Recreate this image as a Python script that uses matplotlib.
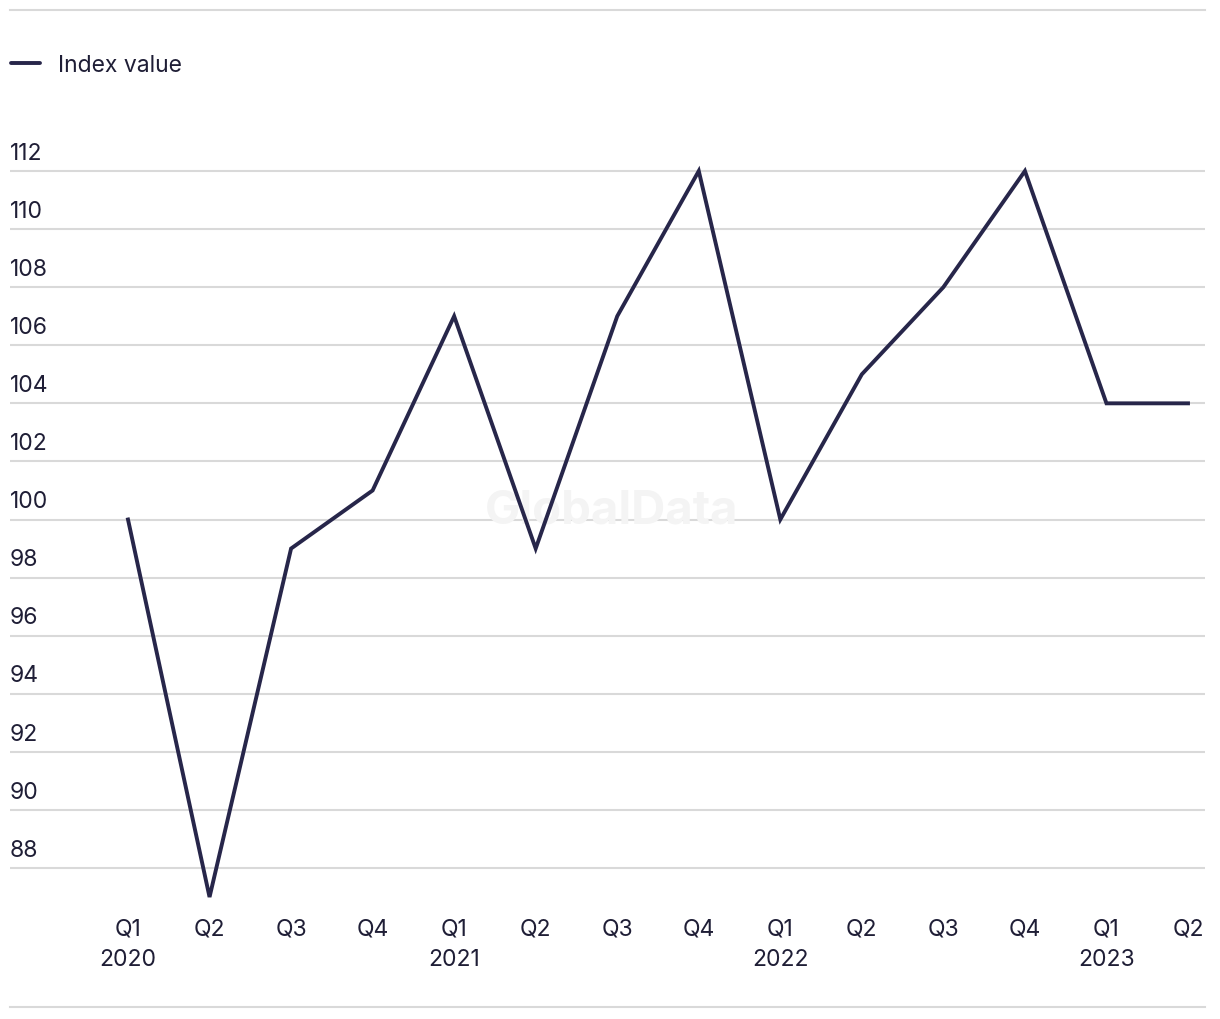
import matplotlib
matplotlib.use("Agg")
import matplotlib.pyplot as plt
from matplotlib.lines import Line2D
from matplotlib.transforms import blended_transform_factory

quarters = ["Q1", "Q2", "Q3", "Q4", "Q1", "Q2", "Q3", "Q4", "Q1", "Q2", "Q3", "Q4", "Q1", "Q2"]
years = ["2020", "", "", "", "2021", "", "", "", "2022", "", "", "", "2023", ""]
values = [100, 87, 99, 101, 107, 99, 107, 112, 100, 105, 108, 112, 104, 104]
yticks = list(range(88, 113, 2))

plt.rcParams['font.family'] = ['Inter', 'DejaVu Sans']
W, H = 1220, 1020
fig = plt.figure(figsize=(W / 100, H / 100), dpi=100)

def fx(px):
    return px / W

def fy(py):
    return 1 - py / H

line_c = "#27264a"
text_c = "#1f1e36"
grid_c = "#d9d9d9"
fs = 16.5

ax_top, ax_bot = 150, 905
ax = fig.add_axes([fx(10), fy(ax_bot), fx(1205) - fx(10), fy(ax_top) - fy(ax_bot)])
ppu = (869 - 172) / 24.0
ax.set_ylim(88 - (ax_bot - 869) / ppu, 112 + (172 - ax_top) / ppu)
step = (1188 - 128) / 13.0
ax.set_xlim(-(128 - 10) / step, 13 + (1205 - 1188) / step)

tr = blended_transform_factory(ax.transAxes, ax.transData)
for v in yticks:
    ax.axhline(v, color=grid_c, lw=1.5, zorder=1)
    ax.text(0, v + 0.25, str(v), transform=tr, ha="left", va="bottom",
            fontsize=fs, color=text_c)

# watermark (behind the line)
ax.text(0.504, 0.5, "GlobalData", transform=fig.transFigure, ha="center", va="center",
        fontsize=34, fontweight="bold", color="#f4f4f4", zorder=2)
ax.texts[-1].set_position((fx(612), fy(512)))

x = list(range(len(values)))
ax.plot(x, values, color=line_c, lw=2.8, solid_joinstyle="miter", zorder=3)

for spine in ax.spines.values():
    spine.set_visible(False)
ax.set_xticks([])
ax.set_yticks([])
ax.patch.set_alpha(0)

for i, (q, yr) in enumerate(zip(quarters, years)):
    xf = (ax.transData.transform((i, 0))[0]) / W
    fig.text(xf, fy(930), q, ha="center", va="center", fontsize=fs, color=text_c)
    if yr:
        fig.text(xf, fy(960), yr, ha="center", va="center", fontsize=fs, color=text_c)

# legend
fig.add_artist(Line2D([fx(11), fx(40)], [fy(64), fy(64)], color=line_c, lw=2.8,
                      solid_capstyle="round"))
fig.text(fx(58), fy(66), "Index value", ha="left", va="center", fontsize=fs, color=text_c)

# top / bottom rules
fig.add_artist(Line2D([fx(10), fx(1205)], [fy(11), fy(11)], color=grid_c, lw=1.5))
fig.add_artist(Line2D([fx(10), fx(1205)], [fy(1008), fy(1008)], color=grid_c, lw=1.5))

fig.savefig("out.png", dpi=100, facecolor="white")
